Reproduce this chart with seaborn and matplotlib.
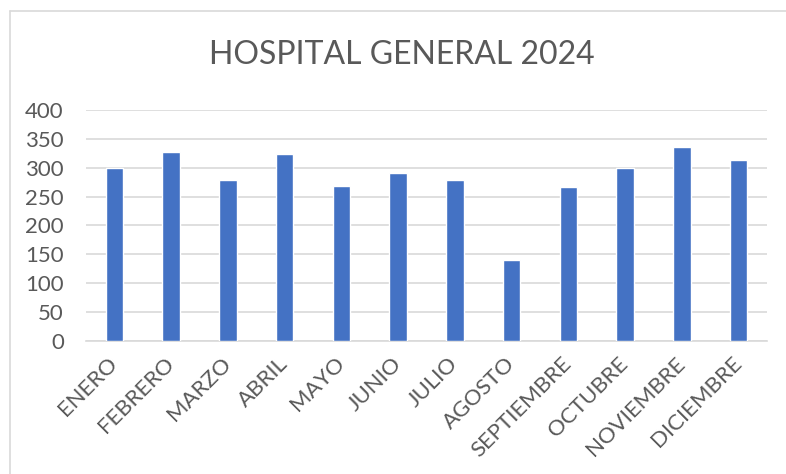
import matplotlib
matplotlib.use("Agg")
import matplotlib.pyplot as plt
from matplotlib.lines import Line2D
import pandas as pd
import seaborn as sns

# Datos del gráfico
meses = ["ENERO", "FEBRERO", "MARZO", "ABRIL", "MAYO", "JUNIO", "JULIO",
         "AGOSTO", "SEPTIEMBRE", "OCTUBRE", "NOVIEMBRE", "DICIEMBRE"]
valores = [300, 327, 278, 324, 268, 291, 279, 140, 266, 300, 336, 314]
y_ticks = [0, 50, 100, 150, 200, 250, 300, 350, 400]

sns.set_theme(style="white")
plt.rcParams["font.family"] = ["Lato", "DejaVu Sans"]

gris = "#595959"
df = pd.DataFrame({"mes": meses, "valor": valores})

fig = plt.figure(figsize=(7.86, 4.74), dpi=100)
ax = fig.add_axes([0.1094, 0.2806, 0.8664, 0.4874])

sns.barplot(data=df, x="mes", y="valor", color="#4472C4", width=0.31,
            saturation=1, ax=ax, zorder=3)

ax.set_ylim(0, 400)
ax.set_xlim(-0.5, len(meses) - 0.5)
ax.set_yticks(y_ticks)
ax.set_yticklabels([str(v) for v in y_ticks], fontsize=16, color=gris)
ax.yaxis.grid(True, color="#D9D9D9", linewidth=1.2, zorder=0)
ax.set_xlabel("")
ax.set_ylabel("")
for s in ["top", "right", "left"]:
    ax.spines[s].set_visible(False)
ax.spines["bottom"].set_color("#D9D9D9")
ax.spines["bottom"].set_linewidth(1.2)
ax.tick_params(axis="y", length=0, pad=16)
ax.tick_params(axis="x", length=0, pad=14)

ax.set_xticks(range(len(meses)))
ax.set_xticklabels(meses, rotation=45, ha="right", va="center",
                   rotation_mode="anchor", fontsize=16, color=gris)

fig.text(0.511, 0.885, "HOSPITAL GENERAL 2024", ha="center", va="center",
         fontsize=23, color=gris)

# marco del área del gráfico (solo se ve izquierda y arriba)
fig.add_artist(Line2D([10 / 786, 10 / 786], [0, 1 - 11 / 474],
                      transform=fig.transFigure, color="#D9D9D9", linewidth=1.2))
fig.add_artist(Line2D([10 / 786, 1], [1 - 11 / 474, 1 - 11 / 474],
                      transform=fig.transFigure, color="#D9D9D9", linewidth=1.2))

fig.savefig("out.png", dpi=100)
